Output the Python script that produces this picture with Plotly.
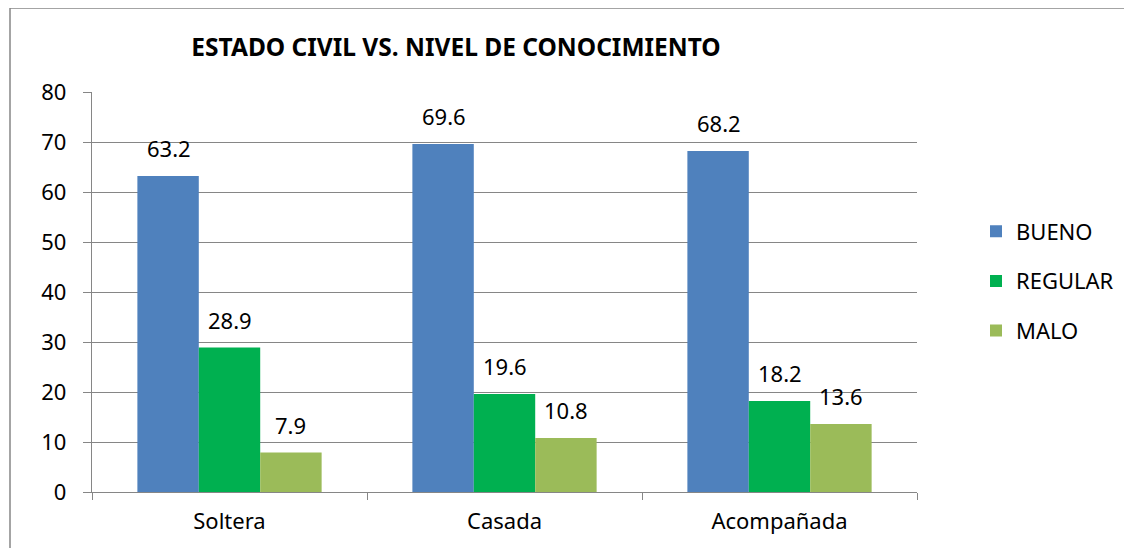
import plotly.graph_objects as go

categories = ["Soltera", "Casada", "Acompañada"]
bueno = [63.2, 69.6, 68.2]
regular = [28.9, 19.6, 18.2]
malo = [7.9, 10.8, 13.6]
series_names = ["BUENO", "REGULAR", "MALO"]
colors = ["#4F81BD", "#00B050", "#9BBB59"]
y_ticks = [0, 10, 20, 30, 40, 50, 60, 70, 80]

FONT = "Noto Sans"
OFF = 8  # page body offset
L, T, R, B = 92 - OFF, 92 - OFF, 917 - OFF, 492 - OFF
W, H = 1132, 548
PW, PH = R - L, B - T

fig = go.Figure()
for name, vals, col in zip(series_names, [bueno, regular, malo], colors):
    fig.add_trace(go.Bar(name=name, x=categories, y=vals, legendgroup=name,
                         marker=dict(color=col, line=dict(width=0))))

# data labels
bar_px = 61
for i, vals in enumerate([bueno, regular, malo]):
    for c, v in zip(categories, vals):
        fig.add_annotation(x=c, y=v, xref="x", yref="y", text=f"{v}", showarrow=False,
                           yanchor="bottom", yshift=11, xshift=(i - 1) * bar_px,
                           font=dict(family=FONT, size=22, color="#000000"))

fig.update_layout(
    width=W, height=H,
    margin=dict(l=L, r=W - R, t=T, b=H - B),
    plot_bgcolor="white", paper_bgcolor="white",
    barmode="group", bargap=0.33, bargroupgap=0,
    font=dict(family=FONT, size=22, color="#000000"),
    title=dict(text="<b>ESTADO CIVIL VS. NIVEL DE CONOCIMIENTO</b>", x=(456 - OFF) / W, xanchor="center",
               y=1 - (47 - OFF) / H, yanchor="middle", font=dict(family=FONT, size=24.5, color="#000000")),
    legend=dict(x=(976 - OFF - L) / PW, y=1 - (281 - 92) / 400, xanchor="left", yanchor="middle",
                font=dict(family=FONT, size=22), itemsizing="constant", tracegroupgap=18,
                traceorder="grouped", bgcolor="rgba(0,0,0,0)"),
    showlegend=True,
)
fig.update_yaxes(range=[0, 80], tickvals=y_ticks, showgrid=True, gridcolor="#868686", gridwidth=1.3,
                 showline=True, linecolor="#868686", linewidth=1.3, ticks="outside", ticklen=8,
                 tickcolor="#868686", ticklabelstandoff=12, zeroline=False,
                 tickfont=dict(family=FONT, size=22))
fig.update_xaxes(showline=True, linecolor="#868686", linewidth=1.3, ticks="outside", ticklen=7,
                 tickcolor="#868686", tickson="boundaries", ticklabelstandoff=9,
                 tickfont=dict(family=FONT, size=22))

# outer chart border (left and top visible)
fig.add_shape(type="rect", xref="paper", yref="paper",
              x0=(10 - OFF - L) / PW, x1=(1150 - L) / PW, y0=-(570 - B) / PH, y1=1 + (T - (8 - OFF)) / PH,
              line=dict(color="#868686", width=1.5), fillcolor="rgba(0,0,0,0)", layer="below")

fig.write_html("out.html")
